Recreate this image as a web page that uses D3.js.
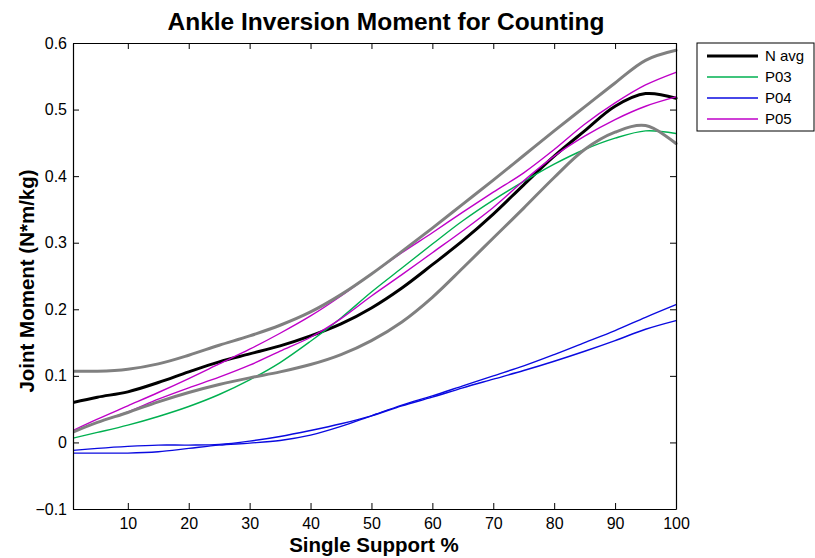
<!DOCTYPE html>
<html>
<head>
<meta charset="utf-8">
<script src="https://cdn.jsdelivr.net/npm/d3@7/dist/d3.min.js"></script>
<style>
  html, body { margin: 0; padding: 0; background: #fff; }
  svg { display: block; font-family: "Liberation Sans", Arial, sans-serif; }
</style>
</head>
<body>
<svg id="chart" width="815" height="558"></svg>
<script>
const title = "Ankle Inversion Moment for Counting";
const xLabel = "Single Support %";
const yLabel = "Joint Moment (N*m/kg)";

const pct = [1, 5, 10, 15, 20, 25, 30, 35, 40, 45, 50, 55, 60, 65, 70, 75, 80, 85, 90, 95, 100];

const nAvg    = [0.060, 0.068, 0.076, 0.090, 0.106, 0.121, 0.133, 0.145, 0.160, 0.178, 0.202, 0.232, 0.267, 0.303, 0.343, 0.387, 0.430, 0.468, 0.505, 0.524, 0.517];
const sdUpper = [0.107, 0.107, 0.110, 0.118, 0.131, 0.146, 0.160, 0.176, 0.196, 0.222, 0.253, 0.287, 0.322, 0.358, 0.394, 0.431, 0.468, 0.504, 0.540, 0.574, 0.589];
const sdLower = [0.0155, 0.030, 0.045, 0.061, 0.075, 0.087, 0.097, 0.106, 0.117, 0.132, 0.153, 0.181, 0.218, 0.262, 0.307, 0.352, 0.398, 0.440, 0.466, 0.476, 0.449];
const p03     = [0.0065, 0.015, 0.026, 0.039, 0.054, 0.072, 0.094, 0.120, 0.152, 0.187, 0.226, 0.262, 0.298, 0.333, 0.364, 0.392, 0.418, 0.440, 0.457, 0.468, 0.464];
const p04a    = [-0.012, -0.009, -0.006, -0.004, -0.004, -0.003, 0.002, 0.009, 0.018, 0.028, 0.040, 0.055, 0.068, 0.082, 0.095, 0.108, 0.122, 0.137, 0.153, 0.170, 0.183];
const p04b    = [-0.016, -0.016, -0.016, -0.014, -0.009, -0.004, -0.001, 0.003, 0.011, 0.024, 0.040, 0.056, 0.070, 0.085, 0.100, 0.115, 0.132, 0.150, 0.168, 0.188, 0.207];
const p05a    = [0.018, 0.035, 0.055, 0.075, 0.096, 0.118, 0.140, 0.164, 0.190, 0.220, 0.253, 0.285, 0.315, 0.346, 0.376, 0.405, 0.440, 0.478, 0.510, 0.537, 0.556];
const p05b    = [0.016, 0.030, 0.046, 0.065, 0.082, 0.098, 0.116, 0.137, 0.158, 0.186, 0.220, 0.252, 0.285, 0.318, 0.353, 0.393, 0.430, 0.460, 0.485, 0.505, 0.519];

const xTicks = [10, 20, 30, 40, 50, 60, 70, 80, 90, 100];
const yTicks = [-0.1, 0, 0.1, 0.2, 0.3, 0.4, 0.5, 0.6];
const legendNames = ["N avg", "P03", "P04", "P05"];

const svg = d3.select("#chart");
const L = 73, R = 676, T = 43, B = 509;

const x = d3.scaleLinear().domain([1, 100]).range([L, R]);
const y = d3.scaleLinear().domain([-0.1, 0.6]).range([B, T]);

const line = d3.line()
  .x((d, i) => x(pct[i]))
  .y(d => y(d))
  .curve(d3.curveCatmullRom.alpha(0.5));

const series = [
  { v: nAvg, color: "#000000", w: 3 },
  { v: p03, color: "#00b050", w: 1.4 },
  { v: p04a, color: "#0a0ae0", w: 1.4 },
  { v: p04b, color: "#0a0ae0", w: 1.4 },
  { v: p05a, color: "#bf00c8", w: 1.4 },
  { v: p05b, color: "#bf00c8", w: 1.4 },
  { v: sdUpper, color: "#808080", w: 3 },
  { v: sdLower, color: "#808080", w: 3 }
];

svg.append("clipPath").attr("id", "clip")
  .append("rect").attr("x", L).attr("y", T - 2).attr("width", R - L + 2).attr("height", B - T + 2);

const g = svg.append("g").attr("clip-path", "url(#clip)");
series.forEach(s => {
  g.append("path")
    .attr("d", line(s.v))
    .attr("fill", "none")
    .attr("stroke", s.color)
    .attr("stroke-width", s.w)
    .attr("stroke-linejoin", "round")
    .attr("stroke-linecap", "round");
});

// axes (MATLAB style: ticks inside, box)
const tickLen = 6;
const axisFont = "16px";

const xb = svg.append("g").attr("transform", `translate(0,${B})`)
  .call(d3.axisBottom(x).tickValues(xTicks).tickSizeInner(-tickLen).tickSizeOuter(0).tickPadding(9));
const xt = svg.append("g").attr("transform", `translate(0,${T})`)
  .call(d3.axisTop(x).tickValues(xTicks).tickSizeInner(-tickLen).tickSizeOuter(0).tickFormat(""));
const yl = svg.append("g").attr("transform", `translate(${L},0)`)
  .call(d3.axisLeft(y).tickValues(yTicks).tickSizeInner(-tickLen).tickSizeOuter(0).tickPadding(6)
    .tickFormat(d => d === 0 ? "0" : d3.format(".1f")(d)));
const yr = svg.append("g").attr("transform", `translate(${R},0)`)
  .call(d3.axisRight(y).tickValues(yTicks).tickSizeInner(-tickLen).tickSizeOuter(0).tickFormat(""));

[xb, xt, yl, yr].forEach(a => {
  a.select(".domain").attr("stroke", "#000").attr("stroke-width", 1.2);
  a.selectAll(".tick line").attr("stroke", "#000").attr("stroke-width", 1);
  a.selectAll("text").attr("font-size", axisFont).attr("fill", "#000")
    .attr("font-family", "'Liberation Sans', Arial, sans-serif");
});
xb.selectAll(".tick text").attr("dy", "0.71em");

// title & labels
svg.append("text")
  .attr("x", 386).attr("y", 30)
  .attr("text-anchor", "middle")
  .attr("font-size", "24.5px").attr("font-weight", "bold")
  .text(title);

svg.append("text")
  .attr("x", 374).attr("y", 552)
  .attr("text-anchor", "middle")
  .attr("font-size", "20.5px").attr("font-weight", "bold")
  .text(xLabel);

svg.append("text")
  .attr("transform", `translate(34,${281}) rotate(-90)`)
  .attr("text-anchor", "middle")
  .attr("font-size", "20.5px").attr("font-weight", "bold")
  .text(yLabel);

// legend
const lg = svg.append("g");
lg.append("rect").attr("x", 697).attr("y", 43).attr("width", 117).attr("height", 88)
  .attr("fill", "#fff").attr("stroke", "#000").attr("stroke-width", 1);
const legendColors = ["#000000", "#00b050", "#0a0ae0", "#bf00c8"];
const legendWidths = [3, 1.4, 1.4, 1.4];
const rowY = d3.scalePoint().domain(legendNames).range([56, 119]);
legendNames.forEach((n, i) => {
  lg.append("line")
    .attr("x1", 707).attr("x2", 758)
    .attr("y1", rowY(n)).attr("y2", rowY(n))
    .attr("stroke", legendColors[i]).attr("stroke-width", legendWidths[i]);
  lg.append("text")
    .attr("x", 765).attr("y", rowY(n)).attr("dy", "0.36em")
    .attr("font-size", "15px")
    .text(n);
});
</script>
</body>
</html>
